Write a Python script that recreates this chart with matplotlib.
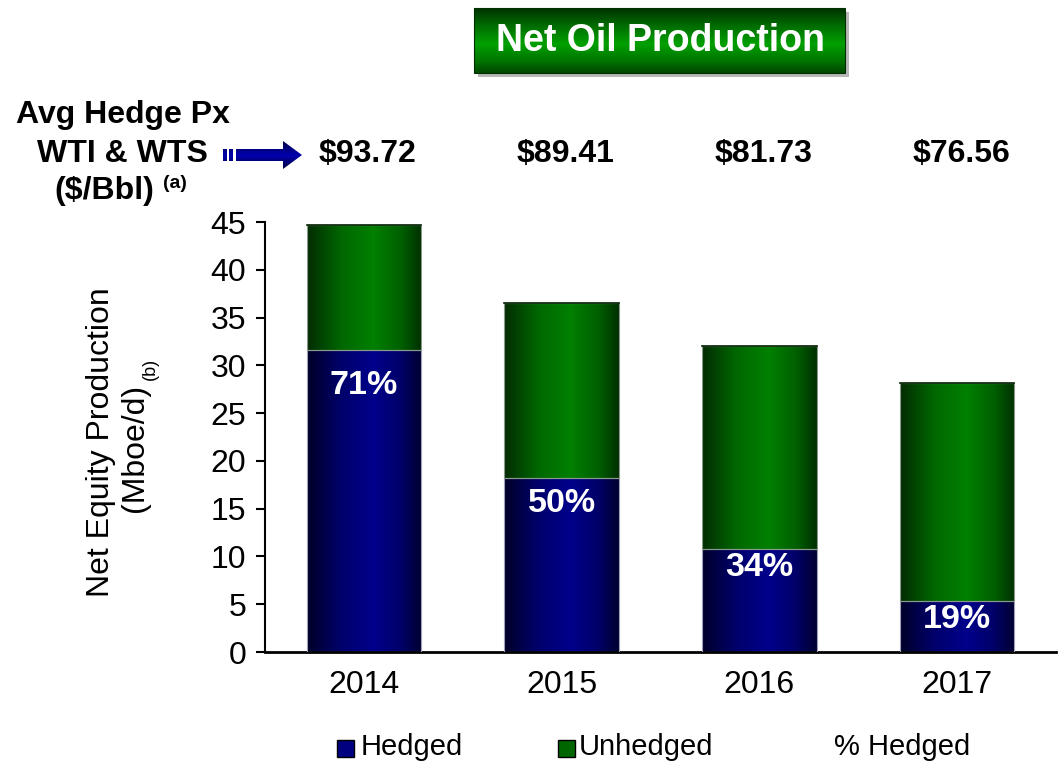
import numpy as np
import matplotlib
matplotlib.use('Agg')
from matplotlib import pyplot as plt
from matplotlib.colors import LinearSegmentedColormap
from matplotlib.patches import Rectangle, Polygon
from matplotlib.transforms import blended_transform_factory

plt.rcParams['font.family'] = ['Liberation Sans', 'DejaVu Sans']

# production by year (Mboe/d)
years = ['2014', '2015', '2016', '2017']
hedged = [31.6, 18.2, 10.8, 5.3]
unhedged = [13.1, 18.3, 21.2, 22.9]
pct_hedged = [71, 50, 34, 19]
hedge_px = ['$93.72', '$89.41', '$81.73', '$76.56']

W, H = 1058, 762
fig = plt.figure(figsize=(W / 100, H / 100), dpi=100)
ax = fig.add_axes([265 / W, 1 - 652 / H, (1056 - 265) / W, (652 - 222) / H])

# overlay in pixel coords for the boxes, arrow and legend
ov = fig.add_axes([0, 0, 1, 1], zorder=5)
ov.set_xlim(0, W)
ov.set_ylim(H, 0)
ov.axis('off')

green_cm = LinearSegmentedColormap.from_list(
    'g', [(0, '#042c04'), (0.3, '#006800'), (0.58, '#008000'), (0.82, '#006000'), (1, '#003000')])
blue_cm = LinearSegmentedColormap.from_list(
    'b', [(0, '#000028'), (0.3, '#00006c'), (0.58, '#00008c'), (0.82, '#000068'), (1, '#000030')])

x = np.arange(len(years))
bw = 0.58
b1 = ax.bar(x, hedged, bw, facecolor='none', edgecolor='#a0a0b8', lw=0.8, zorder=3)
b2 = ax.bar(x, unhedged, bw, bottom=hedged, facecolor='none', edgecolor='#8a9a8a', lw=0.8, zorder=3)

grad = np.linspace(0, 1, 256).reshape(1, -1)
for bars, cm in [(b1, blue_cm), (b2, green_cm)]:
    for p in bars:
        x0, y0 = p.get_x(), p.get_y()
        im = ax.imshow(grad, cmap=cm, aspect='auto', zorder=2,
                       extent=[x0, x0 + p.get_width(), y0, y0 + p.get_height()])
        im.set_clip_path(p)

# dark line on the top of each stack
for p in b2:
    ax.plot([p.get_x(), p.get_x() + p.get_width()], [p.get_y() + p.get_height()] * 2,
            color='#002000', lw=1.2, zorder=4)

ax.set_xlim(-0.5, 3.5)
ax.set_ylim(0, 45)
ax.set_yticks(range(0, 50, 5))
ax.set_xticks(x)
ax.set_xticklabels(years)
ax.spines['top'].set_visible(False)
ax.spines['right'].set_visible(False)
ax.spines['left'].set_linewidth(1.5)
ax.spines['bottom'].set_linewidth(2)
ax.tick_params(axis='y', direction='out', length=6.5, width=1.5, labelsize=23, pad=7)
ax.tick_params(axis='x', length=0, labelsize=23, pad=13)
ax.patch.set_alpha(0)

# percent hedged labels inside the hedged bars
offsets = [35, 25, 19, 18]
for xi, h, pc, off in zip(x, hedged, pct_hedged, offsets):
    ax.annotate(f'{pc}%', xy=(xi, h), xytext=(0, -off), textcoords='offset pixels',
                ha='center', va='center', color='white', fontsize=24.5, fontweight='bold', zorder=5)

# hedge prices above the bars
tr = blended_transform_factory(ax.transData, ov.transData)
for xi, s in zip(x, hedge_px):
    ov.text(xi + 0.02, 154, s, transform=tr, ha='center', va='center',
            fontsize=23, fontweight='bold')

# y axis title
ov.text(101, 442, 'Net Equity Production', rotation=90, ha='center', va='center', fontsize=23)
ov.text(135, 448, '(Mboe/d)', rotation=90, ha='center', va='center', fontsize=23)
ov.text(150, 369, '(b)', rotation=90, ha='center', va='center', fontsize=13)

# title box
ov.add_patch(Rectangle((478, 12), 371, 65, facecolor='#b8b8b8', edgecolor='none', zorder=1))
box = Rectangle((474, 8), 371, 65, facecolor='none', edgecolor='#003000', lw=0.8, zorder=3)
ov.add_patch(box)
vgrad = np.linspace(0, 1, 256).reshape(-1, 1)
title_cm = LinearSegmentedColormap.from_list(
    't', [(0, '#003000'), (0.25, '#006800'), (0.55, '#00a000'), (0.8, '#007800'), (1, '#004800')])
im = ov.imshow(vgrad, cmap=title_cm, aspect='auto', zorder=2, extent=[474, 845, 73, 8])
im.set_clip_path(box)
ov.text(660, 41, 'Net Oil Production', ha='center', va='center', color='white',
        fontsize=27, fontweight='bold', zorder=4)

# left annotation with arrow
ov.text(123, 115, 'Avg Hedge Px', ha='center', va='center', fontsize=23, fontweight='bold')
ov.text(122, 154, 'WTI & WTS', ha='center', va='center', fontsize=23, fontweight='bold')
ov.text(104, 191, '($/Bbl)', ha='center', va='center', fontsize=23, fontweight='bold')
ov.text(175, 183, '(a)', ha='center', va='center', fontsize=14, fontweight='bold')

arrow = Polygon([(236, 149), (283, 149), (283, 141), (302, 155), (283, 169), (283, 161), (236, 161)],
                closed=True, facecolor='none', edgecolor='none', zorder=3)
s1 = Rectangle((223, 149), 4, 12, facecolor='none', edgecolor='none')
s2 = Rectangle((229, 149), 4, 12, facecolor='none', edgecolor='none')
arrow_cm = LinearSegmentedColormap.from_list(
    'a', [(0, '#000040'), (0.5, '#0000b0'), (1, '#000040')])
for shape in [arrow, s1, s2]:
    ov.add_patch(shape)
    im = ov.imshow(vgrad, cmap=arrow_cm, aspect='auto', zorder=2, extent=[220, 304, 169, 141])
    im.set_clip_path(shape)

# legend
ov.add_patch(Rectangle((337, 740), 17, 17, facecolor='#000080', edgecolor='black', lw=1))
ov.text(361, 747, 'Hedged', ha='left', va='center', fontsize=21)
ov.add_patch(Rectangle((558, 740), 17, 17, facecolor='#006600', edgecolor='black', lw=1))
ov.text(579, 747, 'Unhedged', ha='left', va='center', fontsize=21)
ov.text(834, 747, '% Hedged', ha='left', va='center', fontsize=21)

ov.set_xlim(0, W)
ov.set_ylim(H, 0)

fig.savefig('out.png', dpi=100)
